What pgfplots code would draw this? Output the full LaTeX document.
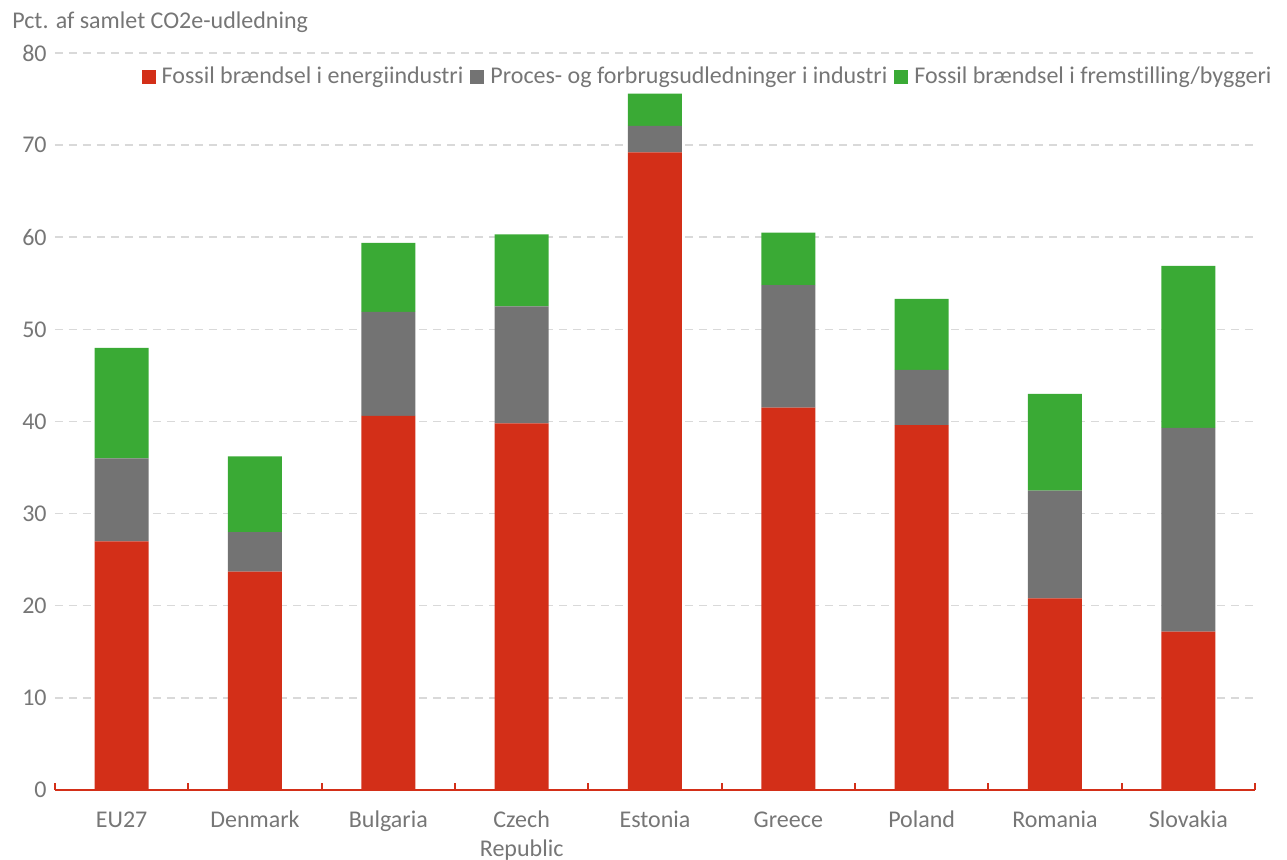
\documentclass[border=0pt]{standalone}
\usepackage{fontspec}
\setmainfont{Carlito}[Ligatures=NoCommon]
\usepackage{pgfplots}
\pgfplotsset{compat=1.18}
\definecolor{cred}{HTML}{D32F18}
\definecolor{cgray}{HTML}{737373}
\definecolor{cgreen}{HTML}{3AAA35}
\definecolor{ctext}{HTML}{767676}
\definecolor{cgrid}{HTML}{D9D9D9}
\begin{document}
\fontsize{12}{14.5}\selectfont
\begin{tikzpicture}
\useasboundingbox (-27.5pt,-35pt) rectangle (616pt,395pt);
\begin{axis}[
  at={(0pt,0pt)}, anchor=south west,
  scale only axis, width=600pt, height=368.5pt,
  ybar stacked, bar width=0.405,
  xmin=-0.5, xmax=8.5, ymin=0, ymax=80,
  ytick={0,10,...,80},
  xtick={0,...,8},
  xticklabels={\strut EU27,\strut Denmark,\strut Bulgaria,\strut Czech\\\strut Republic,\strut Estonia,\strut Greece,\strut Poland,\strut Romania,\strut Slovakia},
  xticklabel style={align=center, text=ctext, yshift=-4.5pt},
  yticklabel style={text=ctext},
  /pgf/number format/assume math mode=true,
  minor xtick={-0.5,0.5,...,8.5},
  axis lines*=left,
  y axis line style={draw=none},
  x axis line style={cred, line width=1pt},
  major x tick style={draw=none},
  minor x tick style={cred, line width=1pt},
  ytick style={draw=none},
  minor tick length=3.5pt,
  tick align=inside,
  ymajorgrids,
  major grid style={cgrid, dash pattern=on 4pt off 3pt, line width=0.75pt},
  legend columns=3,
  legend style={draw=none, fill=none, at={(1,1)}, anchor=north east, xshift=13pt, yshift=-3pt,
    text=ctext, nodes={inner sep=1.5pt},
    /tikz/every odd column/.append style={column sep=1.5pt},
    /tikz/every even column/.append style={column sep=2pt}},
  legend image code/.code={\fill[#1] (0pt,-3.5pt) rectangle (7pt,3.5pt);},
]
\addplot[fill=cred, draw=none] coordinates {(0,27.0) (1,23.7) (2,40.6) (3,39.8) (4,69.2) (5,41.5) (6,39.6) (7,20.8) (8,17.2)};
\addplot[fill=cgray, draw=none] coordinates {(0,9.0) (1,4.3) (2,11.3) (3,12.7) (4,2.9) (5,13.3) (6,6.0) (7,11.7) (8,22.1)};
\addplot[fill=cgreen, draw=none] coordinates {(0,12.0) (1,8.2) (2,7.5) (3,7.8) (4,3.5) (5,5.7) (6,7.7) (7,10.5) (8,17.6)};
\legend{Fossil brændsel i energiindustri, Proces- og forbrugsudledninger i industri, Fossil brændsel i fremstilling/byggeri}
\end{axis}
\node[anchor=base west, text=ctext, inner sep=0pt] at (-21.5pt,380.5pt) {Pct. af samlet CO2e-udledning};
\end{tikzpicture}
\end{document}
